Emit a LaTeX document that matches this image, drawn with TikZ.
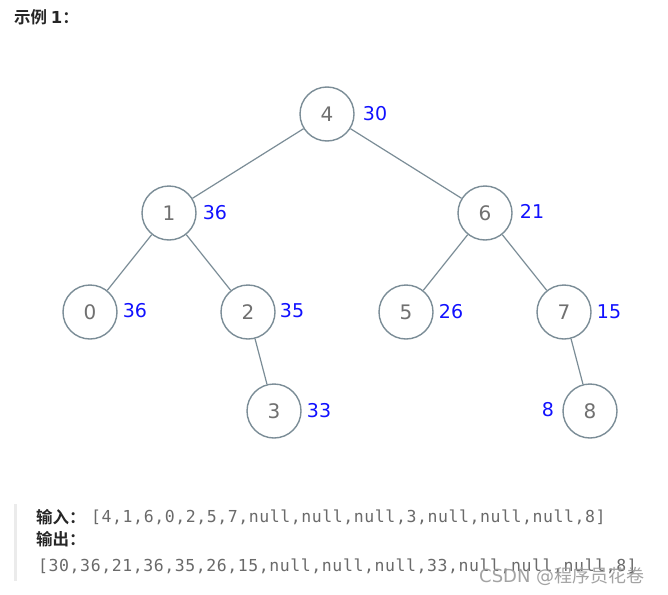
\documentclass[tikz,border=0pt]{standalone}
\usepackage{fontspec}
\setmainfont{DejaVu Sans}
\newfontfamily\cjkb{Noto Sans CJK SC Bold}
\newfontfamily\cjk{Noto Sans CJK SC}
\newfontfamily\monof[LetterSpace=3.5]{DejaVu Sans Mono}
\definecolor{ring}{HTML}{7B8D97}
\definecolor{numgray}{HTML}{707070}
\definecolor{lblue}{HTML}{1111FF}
\definecolor{codegray}{HTML}{6A6A6A}
\tikzset{
  tnode/.style={circle,draw=ring,line width=1.4pt,minimum size=54pt,inner sep=0pt,text=numgray,font=\fontsize{20}{21}\selectfont},
  edge/.style={draw=ring,line width=1.2pt},
  val/.style={text=lblue,font=\fontsize{19}{20}\selectfont,inner sep=0pt},
  code/.style={text=codegray,font=\monof\fontsize{16.5}{18}\selectfont,anchor=west,inner sep=0pt},
  lab/.style={font=\cjkb\fontsize{16.5}{18}\selectfont,anchor=west,inner sep=0pt,text=black!85}
}
\begin{document}
\begin{tikzpicture}[x=1pt,y=-1pt]
\useasboundingbox[fill=white] (0,0) rectangle (668,594);
\node[lab] (title) at (14,17) {示例 {\fontspec{DejaVu Sans}\bfseries 1}：};
\node[tnode] (n4) at (327,114) {4};
\node[tnode] (n1) at (169,213) {1};
\node[tnode] (n6) at (485,213) {6};
\node[tnode] (n0) at (90,312) {0};
\node[tnode] (n2) at (248,312) {2};
\node[tnode] (n5) at (406,312) {5};
\node[tnode] (n7) at (564,312) {7};
\node[tnode] (n3) at (274,411) {3};
\node[tnode] (n8) at (590,411) {8};
\draw[edge] (n4) -- (n1);
\draw[edge] (n4) -- (n6);
\draw[edge] (n1) -- (n0);
\draw[edge] (n1) -- (n2);
\draw[edge] (n6) -- (n5);
\draw[edge] (n6) -- (n7);
\draw[edge] (n2) -- (n3);
\draw[edge] (n7) -- (n8);
\node[val] (v4) at (375,114) {30};
\node[val] (v1) at (215,213) {36};
\node[val] (v6) at (532,211) {21};
\node[val] (v0) at (135,311) {36};
\node[val] (v2) at (292,311) {35};
\node[val] (v5) at (451,312) {26};
\node[val] (v7) at (609,312) {15};
\node[val] (v3) at (319,411) {33};
\node[val] (v8) at (548,410) {8};
\fill[black!8] (14,504) rectangle (17,581);
\node[lab] (inl) at (36,517) {输入：};
\node[code] (inv) at (91,517) {[4,1,6,0,2,5,7,null,null,null,3,null,null,null,8]};
\node[lab] (outl) at (36,539) {输出：};
\node[code] (outv) at (38,566) {[30,36,21,36,35,26,15,null,null,null,33,null,null,null,8]};
\node[anchor=west,inner sep=0pt,text=black!40,opacity=0.9,font=\fontsize{18}{19}\selectfont] (wm) at (479,576) {CSDN @{\cjk 程序员花卷}};
\end{tikzpicture}
\end{document}
